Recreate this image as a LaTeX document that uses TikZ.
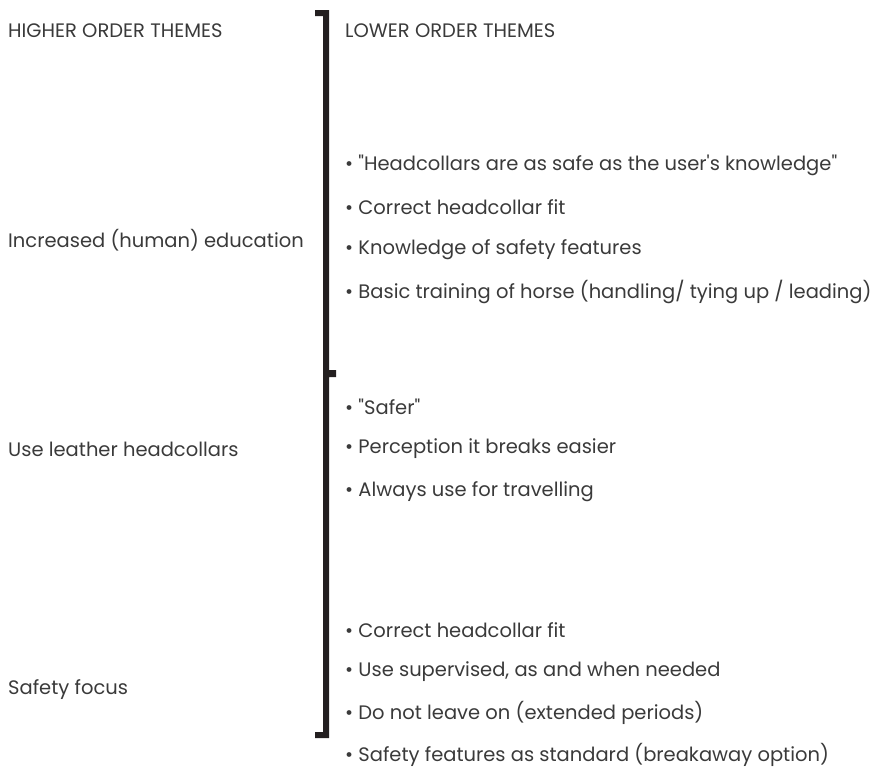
\documentclass[tikz,border=0pt]{standalone}
\usepackage{fontspec}
\setmainfont{Poppins}[Ligatures=TeXOff]
\definecolor{themetext}{HTML}{3A3A3A}
\definecolor{bracketink}{HTML}{231F20}
\begin{document}
\begin{tikzpicture}[x=1pt,y=-1pt]
\tikzstyle{every node}=[font=\fontsize{19.5}{23}\selectfont, text=themetext, inner sep=0pt]
\tikzstyle{theme}=[anchor=west]
\useasboundingbox (0,0) rectangle (879,771);
	% bracket
	\fill[bracketink] (315,10) -- (329,10) -- (329,370) -- (336,370) -- (336,377) -- (329,377)
		-- (329,738) -- (315,738) -- (315,732) -- (323,732) -- (323,16) -- (315,16) -- cycle;
	% headings
	\node[theme] (higher) at (8,31) {HIGHER ORDER THEMES};
	\node[theme] (lower) at (345,31) {LOWER ORDER THEMES};
	% higher order themes
	\node[theme] (educ) at (8,240) {Increased (human) education};
	\node[theme] (leather) at (8,449) {Use leather headcollars};
	\node[theme] (safety) at (8,690) {Safety focus};
	% lower order themes
	\node[theme] (e1) at (345,165) {• "Headcollars are as safe as the user's knowledge"};
	\node[theme] (e2) at (345,207) {• Correct headcollar fit};
	\node[theme] (e3) at (345,250) {• Knowledge of safety features};
	\node[theme] (e4) at (345,292) {• Basic training of horse (handling/ tying up / leading)};
	\node[theme] (l1) at (345,407) {• "Safer"};
	\node[theme] (l2) at (345,449) {• Perception it breaks easier};
	\node[theme] (l3) at (345,492) {• Always use for travelling};
	\node[theme] (s1) at (345,630) {• Correct headcollar fit};
	\node[theme] (s2) at (345,672) {• Use supervised, as and when needed};
	\node[theme] (s3) at (345,713) {• Do not leave on (extended periods)};
	\node[theme] (s4) at (345,755) {• Safety features as standard (breakaway option)};
\end{tikzpicture}
\end{document}
